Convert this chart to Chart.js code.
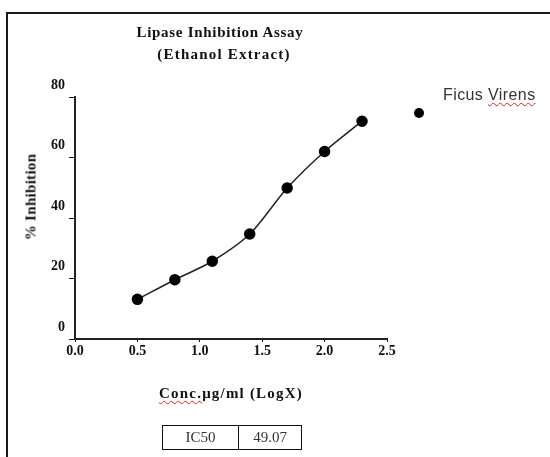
<!DOCTYPE html>
<html>
<head>
<meta charset="utf-8">
<script src="https://cdn.jsdelivr.net/npm/chart.js@4.4.0/dist/chart.umd.min.js"></script>
<style>
  html, body { margin: 0; padding: 0; width: 550px; height: 457px; overflow: hidden; background: #fff; }
  #frame { position: absolute; left: 6px; top: 12px; width: 600px; height: 500px;
           border-top: 2px solid #1a1a1a; border-left: 2px solid #1a1a1a; }
  #wrap { position: absolute; left: 0; top: 0; width: 550px; height: 457px; }
  .lbl { position: absolute; font-family: "Liberation Serif", "Times New Roman", serif;
         font-weight: bold; color: #111; white-space: nowrap; }
  .squiggle { text-decoration: underline wavy #e02020; text-decoration-thickness: 1px; text-underline-offset: 2px; }
  #title { left: 110px; width: 220px; top: 21px; text-align: center; font-size: 15px; line-height: 22px; }
  #title .l1 { letter-spacing: 0.7px; }
  #title .l2 { letter-spacing: 1.2px; padding-left: 8px; }
  #ytitle { left: 31px; top: 197px; font-size: 15px; letter-spacing: 0.3px; transform: translate(-50%, -50%) rotate(-90deg); }
  #xtitle { left: 231px; top: 393px; font-size: 15px; letter-spacing: 1.2px; transform: translate(-50%, -50%); }
  #legend { position: absolute; left: 443px; top: 86px; font-family: "Liberation Sans", Arial, sans-serif;
            font-size: 16px; letter-spacing: 0.4px; color: #333; white-space: nowrap; }
  #legdot { position: absolute; left: 414px; top: 108px; width: 10px; height: 10px; border-radius: 50%; background: #000; }
  #ic50 { position: absolute; left: 162px; top: 425px; border-collapse: collapse;
          font-family: "Liberation Serif", "Times New Roman", serif; font-size: 15px; color: #333; }
  #ic50 td { border: 1.5px solid #111; height: 23px; padding: 0; text-align: center; }
</style>
</head>
<body>
<div id="frame"></div>
<div id="wrap"><canvas id="chart" width="550" height="457"></canvas></div>
<div id="title" class="lbl"></div>
<div id="ytitle" class="lbl"></div>
<div id="xtitle" class="lbl"><span class="squiggle">Conc.</span>μg/ml (LogX)</div>
<div id="legdot"></div>
<div id="legend"></div>
<table id="ic50"><tr><td id="ic50k" style="width:75px"></td><td id="ic50v" style="width:62px"></td></tr></table>
<script>
// data
const titleLines = ['Lipase Inhibition Assay', '(Ethanol Extract)'];
const yTitle = '% Inhibition';
const seriesName = 'Ficus Virens';
const logConc = [0.5, 0.8, 1.1, 1.4, 1.7, 2.0, 2.3];
const inhibition = [13.1, 19.6, 25.7, 34.7, 49.9, 62, 72];
const xTicks = [0.0, 0.5, 1.0, 1.5, 2.0, 2.5];
const yTicks = [0, 20, 40, 60, 80];
const ic50 = ['IC50', '49.07'];

document.getElementById('title').innerHTML =
    '<div class="l1">' + titleLines[0] + '</div><div class="l2">' + titleLines[1] + '</div>';
document.getElementById('ytitle').textContent = yTitle;
document.getElementById('legend').innerHTML = 'Ficus <span class="squiggle">Virens</span>';
document.getElementById('ic50k').textContent = ic50[0];
document.getElementById('ic50v').textContent = ic50[1];

const tickFont = { family: '"Liberation Serif", "Times New Roman", serif', size: 14, weight: 'bold' };

new Chart(document.getElementById('chart').getContext('2d'), {
    type: 'line',
    data: {
        datasets: [{
            label: seriesName,
            data: logConc.map((x, i) => ({ x: x, y: inhibition[i] })),
            borderColor: '#222',
            borderWidth: 1.5,
            backgroundColor: '#000',
            pointBackgroundColor: '#000',
            pointBorderColor: '#000',
            pointRadius: 5,
            tension: 0.3,
            fill: false
        }]
    },
    options: {
        responsive: false,
        animation: false,
        layout: { padding: { top: 97, left: 0, right: 163, bottom: 0 } },
        plugins: { legend: { display: false }, title: { display: false }, tooltip: { enabled: false } },
        scales: {
            x: {
                type: 'linear',
                min: xTicks[0],
                max: xTicks[xTicks.length - 1],
                afterFit: s => { s.height = 118; },
                afterBuildTicks: s => { s.ticks = xTicks.map(v => ({ value: v })); },
                ticks: {
                    color: '#111',
                    font: tickFont,
                    padding: 1,
                    maxRotation: 0,
                    callback: v => v.toFixed(1)
                },
                grid: { display: true, drawOnChartArea: false, tickLength: 3, color: '#111' },
                border: { display: true, color: '#222', width: 2 }
            },
            y: {
                min: yTicks[0],
                max: yTicks[yTicks.length - 1],
                afterFit: s => { s.width = 75; },
                afterBuildTicks: s => { s.ticks = yTicks.map(v => ({ value: v })); },
                ticks: {
                    color: '#111',
                    font: tickFont,
                    padding: 4,
                    labelOffset: -12
                },
                grid: { display: true, drawOnChartArea: false, tickLength: 6, color: '#111' },
                border: { display: true, color: '#222', width: 2 }
            }
        }
    }
});
</script>
</body>
</html>
